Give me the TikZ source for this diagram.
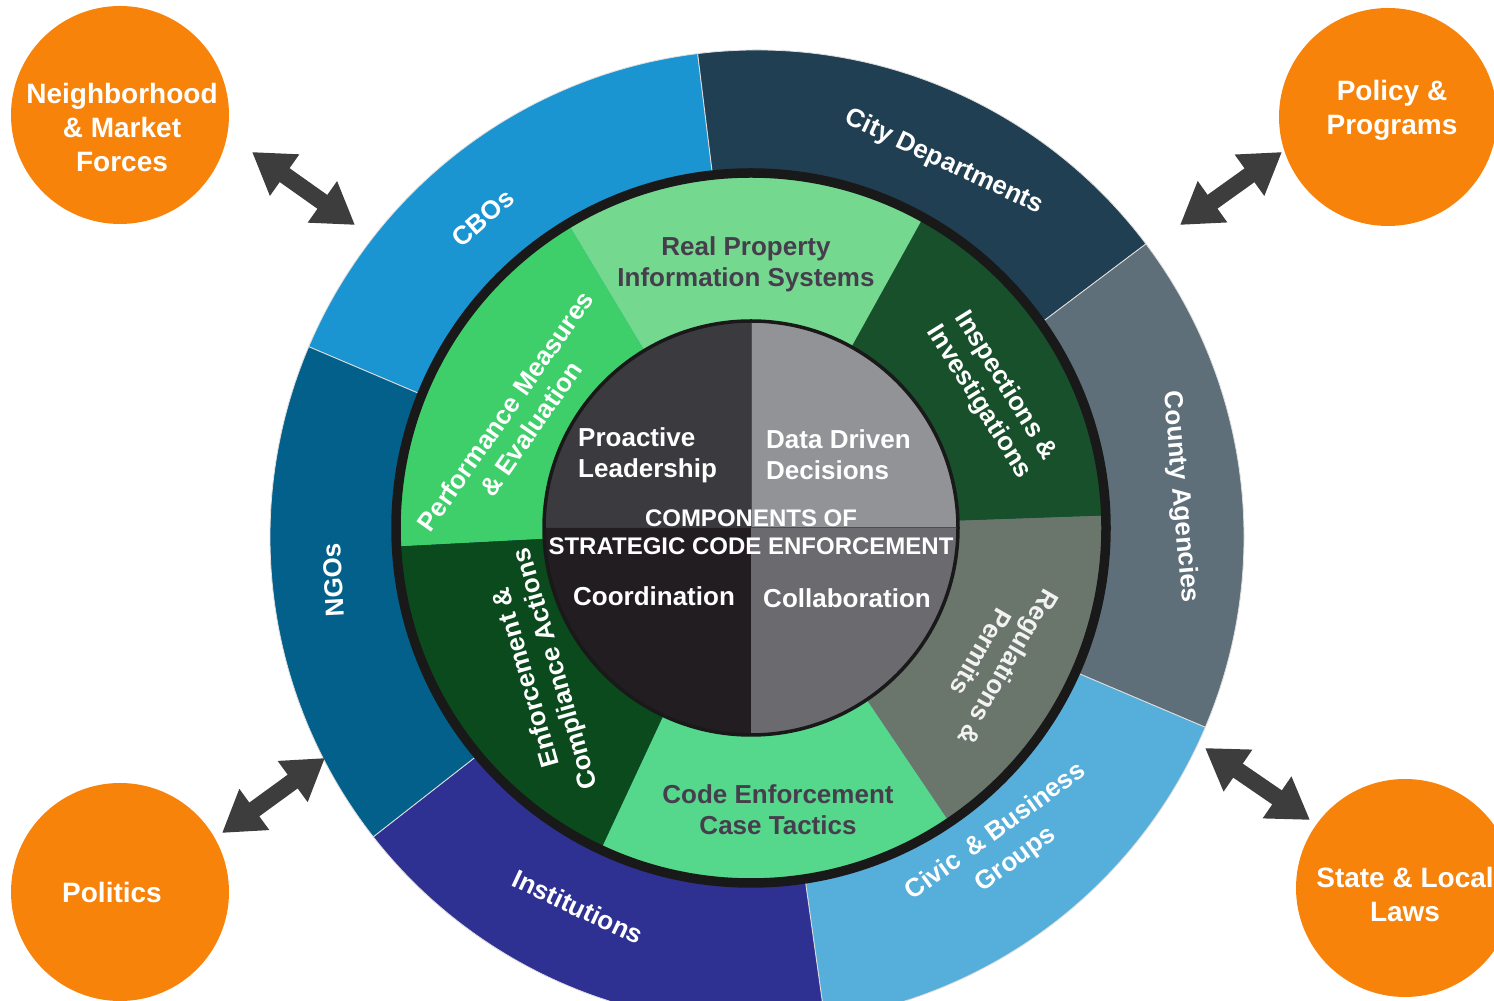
\documentclass[tikz,border=0pt]{standalone}
\usepackage{fontspec}
\setmainfont{Liberation Sans}
\usepackage{tikz}
\usetikzlibrary{arrows.meta}

\definecolor{cbocol}{HTML}{1A95D2}
\definecolor{citycol}{HTML}{213F52}
\definecolor{countycol}{HTML}{5E6F79}
\definecolor{civiccol}{HTML}{56AEDA}
\definecolor{instcol}{HTML}{2E3192}
\definecolor{ngocol}{HTML}{03608A}
\definecolor{realpropcol}{HTML}{74D88F}
\definecolor{perfcol}{HTML}{3ECF6A}
\definecolor{enfcol}{HTML}{0A4A1C}
\definecolor{codeenfcol}{HTML}{55D78C}
\definecolor{regcol}{HTML}{6A766C}
\definecolor{inspcol}{HTML}{17502A}
\definecolor{leadcol}{HTML}{3B3A3E}
\definecolor{datacol}{HTML}{929397}
\definecolor{coordcol}{HTML}{221D20}
\definecolor{collabcol}{HTML}{6A6A6F}
\definecolor{darklabel}{HTML}{463E4C}
\definecolor{forceorange}{HTML}{F7830A}
\definecolor{arrowgrey}{HTML}{3D3D3D}
\definecolor{quadline}{HTML}{4B3F9A}

\tikzset{
  ringtext/.style={text=white, font=\fontsize{26}{31}\selectfont\bfseries, align=center, inner sep=0pt},
  darktext/.style={ringtext, text=darklabel},
  titletext/.style={ringtext, font=\fontsize{24}{28}\selectfont\bfseries},
  forcebubble/.style={circle, fill=forceorange, minimum size=218pt, inner sep=0pt},
  bubbletext/.style={text=white, inner sep=0pt, font=\fontsize{28}{34}\selectfont\bfseries, align=center},
  biarrow/.style={draw=arrowgrey, line width=17pt,
    {Triangle[length=40pt,width=48pt]}-{Triangle[length=40pt,width=48pt]}},
  sector/.style={draw=white!75!gray, line width=0.8pt}
}

\begin{document}
\begin{tikzpicture}[x=1pt,y=1pt]
\useasboundingbox (0,0) rectangle (1494,1001);
\clip (0,0) rectangle (1494,1001);
\coordinate (O) at (757,464);
\coordinate (C) at (751,473);

% outer ring of partners
\filldraw[sector, fill=cbocol] (O) -- ++(97:487pt) arc[start angle=97, end angle=157, radius=487pt] -- cycle;
\filldraw[sector, fill=citycol] (O) -- ++(37:487pt) arc[start angle=37, end angle=97, radius=487pt] -- cycle;
\filldraw[sector, fill=countycol] (O) -- ++(-23:487pt) arc[start angle=-23, end angle=37, radius=487pt] -- cycle;
\filldraw[sector, fill=civiccol] (O) -- ++(-82:487pt) arc[start angle=-82, end angle=-23, radius=487pt] -- cycle;
\filldraw[sector, fill=instcol] (O) -- ++(218:487pt) arc[start angle=218, end angle=278, radius=487pt] -- cycle;
\filldraw[sector, fill=ngocol] (O) -- ++(157:487pt) arc[start angle=157, end angle=218, radius=487pt] -- cycle;

% green ring of activities
\fill[inspcol] (C) -- ++(2:356pt) arc[start angle=2, end angle=61, radius=356pt] -- cycle;
\fill[realpropcol] (C) -- ++(61:356pt) arc[start angle=61, end angle=121, radius=356pt] -- cycle;
\fill[perfcol] (C) -- ++(121:356pt) arc[start angle=121, end angle=183, radius=356pt] -- cycle;
\fill[enfcol] (C) -- ++(183:356pt) arc[start angle=183, end angle=245, radius=356pt] -- cycle;
\fill[codeenfcol] (C) -- ++(245:356pt) arc[start angle=245, end angle=304, radius=356pt] -- cycle;
\fill[regcol] (C) -- ++(304:356pt) arc[start angle=304, end angle=362, radius=356pt] -- cycle;
\draw[black!90, line width=9.5pt] (C) circle (355pt);

% core quadrants
\fill[datacol] (C) -- ++(0:207pt) arc[start angle=0, end angle=90, radius=207pt] -- cycle;
\fill[leadcol] (C) -- ++(90:207pt) arc[start angle=90, end angle=180, radius=207pt] -- cycle;
\fill[coordcol] (C) -- ++(180:207pt) arc[start angle=180, end angle=270, radius=207pt] -- cycle;
\fill[collabcol] (C) -- ++(270:207pt) arc[start angle=270, end angle=360, radius=207pt] -- cycle;
\draw[quadline, line width=1pt] (C) -- ++(90:207pt);
\draw[quadline, line width=1pt] (C) -- ++(0:207pt);
\draw[black!90, line width=3.5pt] (C) circle (207pt);

% partner labels
\node[ringtext, rotate=41] (cbos) at (483,783) {CBOs};
\node[ringtext, rotate=-25] (citydep) at (944,839) {City Departments};
\node[ringtext, rotate=-85] (county) at (1180,504) {County Agencies};
\node[ringtext, rotate=36] (civic) at (1006,155) {Civic \,\& Business\\[3pt]Groups};
\node[ringtext, rotate=-25] (inst) at (578,94) {Institutions};
\node[ringtext, rotate=93] (ngos) at (333,421) {NGOs};

% activity labels
\node[darktext] (realprop) at (746,737) {Real Property\\Information Systems};
\node[ringtext, rotate=55] (perfmeas) at (518,581) {Performance Measures\\\& Evaluation};
\node[ringtext, rotate=-58] (inspinv) at (992,607) {Inspections \&\\Investigations};
\node[ringtext, text=white!90!gray, rotate=-120] (regperm) at (995,341) {Regulations \&\\Permits};
\node[darktext] (codeenf) at (778,191) {Code Enforcement\\Case Tactics};
\node[ringtext, rotate=106] (enfcomp) at (542,328) {Enforcement \&\\Compliance Actions};

% core labels
\node[ringtext, align=left, anchor=west] (proactive) at (578,546) {Proactive\\Leadership};
\node[ringtext, align=left, anchor=west] (datadriven) at (766,546) {Data Driven\\Decisions};
\node[ringtext] (coord) at (654,405) {Coordination};
\node[ringtext] (collab) at (847,403) {Collaboration};
\node[titletext] (title) at (751,469) {COMPONENTS OF\\STRATEGIC CODE ENFORCEMENT};

% outside forces
\node[forcebubble] (nbhforces) at (120,886) {};
\node[forcebubble] (policy) at (1388,884) {};
\node[forcebubble] (politics) at (120,109) {};
\node[forcebubble] (statelaws) at (1405,113) {};
\node[bubbletext] (nbhtext) at ([xshift=2pt, yshift=-13pt]nbhforces.center) {Neighborhood\\\& Market\\Forces};
\node[bubbletext] (policytext) at ([xshift=4pt, yshift=7pt]policy.center) {Policy \&\\Programs};
\node[bubbletext] (politicstext) at ([xshift=-8pt]politics.center) {Politics};
\node[bubbletext] (lawtext) at ([yshift=-6pt]statelaws.center) {State \& Local\\Laws};

% two-way arrows
\coordinate (nbh-out) at (252,849);
\coordinate (nbh-in) at (355,776);
\coordinate (pol-out) at (1282,849);
\coordinate (pol-in) at (1180,776);
\coordinate (poli-out) at (222,168);
\coordinate (poli-in) at (325,243);
\coordinate (law-out) at (1310,181);
\coordinate (law-in) at (1205,253);
\draw[biarrow] (nbh-out) -- (nbh-in);
\draw[biarrow] (pol-out) -- (pol-in);
\draw[biarrow] (poli-out) -- (poli-in);
\draw[biarrow] (law-out) -- (law-in);
\end{tikzpicture}
\end{document}
